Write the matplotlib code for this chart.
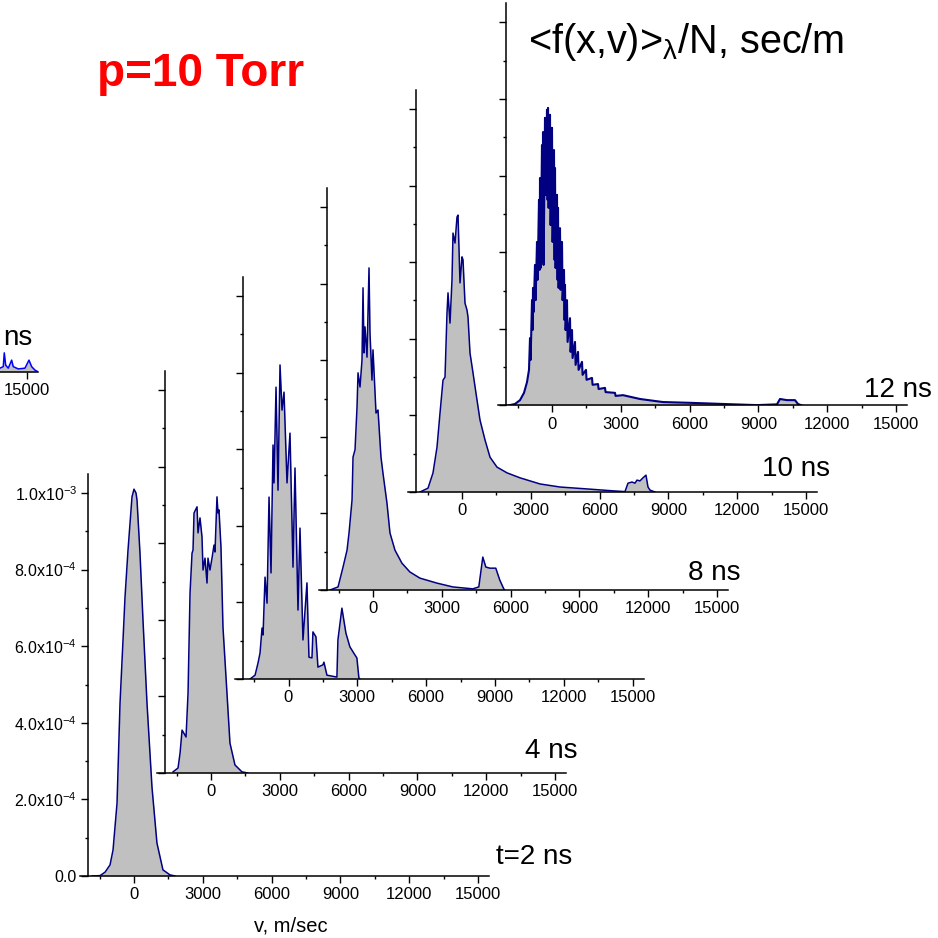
import matplotlib
matplotlib.use('Agg')
import matplotlib.pyplot as plt
import numpy as np
from matplotlib.ticker import MultipleLocator, FuncFormatter, FixedLocator

plt.rcParams['font.family'] = ['Liberation Sans', 'DejaVu Sans']
plt.rcParams['mathtext.default'] = 'regular'

# vitesses v en m/s, f en unites de 1e-4 sec/m
v_2ns = [-1828, -1480, -1262, -1045, -914, -740, -609, -479, -392, -261, -87,
         0, 87, 131, 261, 392, 566, 784, 1001, 1262, 1567, 1785]
f_2ns = [0, 0.01, 0.10, 0.29, 0.68, 1.90, 4.52, 6.16, 7.28, 8.51, 9.90,
         10.1, 10.0, 9.82, 8.43, 6.68, 4.52, 2.32, 0.86, 0.16, 0.03, 0]

v_4ns = [-1654, -1437, -1349, -1262, -1088, -1001, -914, -827, -784, -740,
         -609, -566, -479, -392, -348, -261, -174, -131, -44, 44, 131, 174,
         261, 305, 348, 435, 522, 696, 827, 1045, 1349, 1610]
f_4ns = [0.03, 0.13, 0.52, 1.12, 0.94, 2.09, 4.70, 5.74, 5.82, 6.79,
         6.95, 6.27, 6.66, 6.16, 5.30, 5.61, 4.96, 5.61, 5.30, 5.61, 5.95, 5.77,
         7.21, 6.79, 6.87, 5.90, 3.81, 2.09, 0.78, 0.21, 0.03, 0]

v_6ns = [-1676, -1458, -1328, -1241, -1154, -1110, -1023, -936, -849, -762,
         -675, -631, -544, -457, -370, -283, -196, -65, 65, 196, 283, 414,
         501, 631, 805, 892, 1023, 1066, 1197, 1284, 1502, 1545, 1676, 2111,
         2155, 2329, 2503, 2677, 2895, 2982, 3069, 3112]
f_6ns = [0, 0.10, 0.42, 0.68, 1.33, 1.15, 2.66, 1.98, 4.75, 2.77,
         6.11, 5.12, 7.62, 4.93, 8.20, 7.02, 7.49, 5.12, 6.42, 2.92, 5.51, 1.80,
         3.94, 1.02, 2.51, 0.57, 0.55, 1.23, 1.10, 0.31, 0.37, 0.44, 0.10, 0.05,
         1.02, 1.85, 1.20, 0.84, 0.63, 0.55, 0.03, 0]

v_8ns = [-1872, -1524, -1306, -1132, -1045, -914, -871, -784, -696, -653,
         -566, -479, -435, -392, -348, -261, -174, -131, -44, 0,
         131, 218, 348, 435, 609, 740, 958, 1262, 1610, 2046,
         2786, 3482, 4353, 4614, 4788, 4919, 5093, 5354, 5528, 5702, 5746]
f_8ns = [0, 0.08, 0.60, 1.04, 1.49, 2.35, 3.47, 3.66, 4.78, 5.67,
         5.30, 6.01, 7.89, 6.19, 6.87, 6.08, 8.41, 6.71, 5.48, 6.27,
         4.62, 4.70, 3.47, 3.05, 2.27, 1.49, 1.04, 0.70, 0.47, 0.31,
         0.18, 0.08, 0.03, 0.08, 0.86, 0.60, 0.57, 0.57, 0.26, 0.03, 0]

v_10ns = [-1831, -1482, -1264, -1090, -959, -828, -741, -654, -610, -523,
          -436, -392, -305, -218, -174, -87, 0, 44, 131, 218,
          262, 349, 480, 610, 785, 1003, 1221, 1526, 1962, 2529,
          3401, 4273, 5450, 6584, 7107, 7238, 7412, 7543, 7630, 7761,
          7892, 8022, 8110, 8197, 8415]
f_10ns = [0, 0.10, 0.50, 1.17, 2.06, 2.92, 3.00, 4.67, 5.20, 4.41,
          5.54, 6.76, 6.50, 7.18, 7.23, 5.46, 6.14, 6.06, 4.93, 4.75,
          4.57, 3.63, 3.11, 2.58, 1.88, 1.36, 0.91, 0.65, 0.50, 0.37,
          0.21, 0.13, 0.08, 0.03, 0.01, 0.23, 0.26, 0.23, 0.31, 0.29,
          0.37, 0.44, 0.13, 0.05, 0]

# 12 ns : signal tres bruite, pics hauts / creux alternes
v_12ns = [-1918, -1613, -1395, -1221, -1090, -1003,
          -959, -933, -872, -846, -828, -802, -741, -715, -654, -628,
          -567, -541, -523, -497, -436, -410, -392, -366, -305, -279,
          -218, -192, -174, -148, -87, -61, 0, 26, 87, 113,
          131, 157, 218, 244, 262, 288, 349, 375, 436, 462,
          523, 549, 567, 593, 654, 680, 785, 811, 872, 898,
          1003, 1029, 1134, 1160, 1308, 1334, 1482, 1508, 1744, 1770,
          2006, 2032, 2311, 2337, 2747, 2773,
          3096, 3837, 4840, 6017, 7456, 8938, 9810, 9941, 10246, 10595,
          10726, 10900]
f_12ns = [0, 0.04, 0.14, 0.33, 0.61, 0.93,
          1.76, 1.19, 2.75, 1.97, 3.07, 2.44, 3.67, 2.75, 4.27, 3.28,
          5.37, 3.54, 5.94, 3.59, 6.80, 3.75, 7.14, 3.67, 7.51, 5.50,
          7.72, 5.37, 7.77, 5.16, 7.59, 4.71, 7.25, 4.27, 6.67, 3.80,
          6.20, 3.59, 5.50, 3.28, 5.16, 3.07, 4.63, 3.02, 4.27, 2.75,
          3.54, 2.23, 3.15, 1.97, 2.75, 1.66, 2.28, 1.40, 1.97, 1.24,
          1.66, 1.06, 1.40, 0.93, 1.14, 0.80, 0.93, 0.67, 0.72, 0.54,
          0.56, 0.43, 0.46, 0.35, 0.33, 0.25,
          0.27, 0.17, 0.09, 0.07, 0.04, 0.01, 0.03, 0.17, 0.14, 0.14,
          0.04, 0]

# panneau coupe a gauche (seule la fin est visible)
v_14ns = [12948, 13821, 13965, 14009, 14070, 14183, 14331, 14401, 14619,
          14911, 15086, 15203, 15347, 15465]
f_14ns = [0.10, 0.10, 0.14, 0.50, 0.18, 0.10, 0.31, 0.14, 0.08,
          0.10, 0.31, 0.14, 0.05, 0.01]

W = H = 938.0
MS_PER_PX = 3000 / 68.8
PX_PER_Y = 383 / 1e-3
XMIN, XMAX = -2350, 15500
YMAX = 1.05e-3


def fmt_y(y, pos):
    if y < -1e-12:
        return ''
    if abs(y) < 1e-12:
        return '0.0'
    e = int(np.floor(np.log10(y) + 1e-9))
    m = y / 10 ** e
    return '{:.1f}x10$^{{{}}}$'.format(m, e)


def panneau(v, f, x0, yb, couleur='#000080', lw=1.1, ylabels=False,
            xticks=None):
    '''x0 : pixel du 0 de l'axe v, yb : pixel de l'axe horizontal'''
    left = x0 + XMIN / MS_PER_PX
    width = (XMAX - XMIN) / MS_PER_PX
    height = YMAX * PX_PER_Y
    ax = fig.add_axes([left / W, 1 - yb / H, width / W, height / H])
    ax.set_facecolor('none')
    f = np.array(f) * 1e-4
    ax.fill_between(v, f, color='#c0c0c0', lw=0)
    ax.plot(v, f, color=couleur, lw=lw)
    ax.set_xlim(XMIN, XMAX)
    ax.set_ylim(0, YMAX)
    for s in ['top', 'right']:
        ax.spines[s].set_visible(False)
    ax.spines['left'].set_position(('data', -2000))
    for s in ['left', 'bottom']:
        ax.spines[s].set_linewidth(1.1)
    if xticks is None:
        ax.xaxis.set_major_locator(MultipleLocator(3000))
        ax.xaxis.set_minor_locator(MultipleLocator(1500))
    else:
        ax.xaxis.set_major_locator(FixedLocator(xticks))
        ax.xaxis.set_minor_locator(FixedLocator([]))
    ax.yaxis.set_major_locator(MultipleLocator(2e-4))
    ax.yaxis.set_minor_locator(MultipleLocator(1e-4))
    ax.tick_params(which='major', direction='out', length=5, width=1,
                   labelsize=12, pad=3)
    ax.tick_params(which='minor', direction='out', length=2.5, width=1)
    if ylabels:
        ax.yaxis.set_major_formatter(FuncFormatter(fmt_y))
        ax.tick_params(axis='y', labelsize=11.5)
    else:
        ax.yaxis.set_major_formatter(FuncFormatter(lambda y, pos: ''))
    return ax


fig = plt.figure(figsize=(9.38, 9.38), dpi=100)

panneau(v_14ns, f_14ns, -317, 372, couleur='#0000ff', xticks=[15000])
ax1 = panneau(v_2ns, f_2ns, 134, 876, ylabels=True)
panneau(v_4ns, f_4ns, 211, 773)
panneau(v_6ns, f_6ns, 288.5, 679)
panneau(v_8ns, f_8ns, 373, 590)
panneau(v_10ns, f_10ns, 462, 492)
panneau(v_12ns, f_12ns, 552, 405.5, lw=1.5)

fig.text(291 / W, 1 - 926 / H, 'v, m/sec', fontsize=14.5,
         ha='center', va='center')

# etiquettes de temps
for txt, x, y in [('ns', 32, 345), ('t=2 ns', 572, 864), ('4 ns', 577, 758),
                  ('8 ns', 740, 580), ('10 ns', 830, 476), ('12 ns', 932, 397)]:
    fig.text(x / W, 1 - y / H, txt, fontsize=20, ha='right', va='baseline')

fig.text(97 / W, 1 - 86 / H, 'p=10 Torr', fontsize=33, color='red',
         fontweight='bold', ha='left', va='baseline')
fig.text(528 / W, 1 - 53 / H, r'<f(x,v)>$_{\lambda}$/N, sec/m', fontsize=28.5,
         ha='left', va='baseline')

plt.savefig('out.png', dpi=100)
